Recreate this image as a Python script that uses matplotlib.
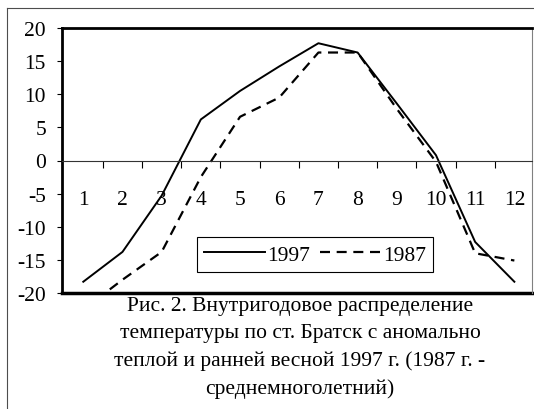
import numpy as np
import matplotlib
matplotlib.use("Agg")
import matplotlib.pyplot as plt
from matplotlib.lines import Line2D

plt.rcParams['font.family'] = ['Liberation Serif', 'DejaVu Serif']
plt.rcParams['axes.unicode_minus'] = False

months = [1, 2, 3, 4, 5, 6, 7, 8, 9, 10, 11, 12]
t1997 = [-18.3, -13.8, -5.3, 6.2, 10.5, 14.2, 17.7, 16.3, 8.6, 0.8, -12.3, -18.3]
t1987 = [-22.5, -18.0, -13.8, -2.5, 6.6, 9.5, 16.3, 16.3, 7.8, -0.2, -14.0, -15.1]
yticks = [-20, -15, -10, -5, 0, 5, 10, 15, 20]
caption = ("Рис. 2. Внутригодовое распределение\n"
           "температуры по ст. Братск с аномально\n"
           "теплой и ранней весной 1997 г. (1987 г. -\n"
           "среднемноголетний)")

fsize = 15.5
fig = plt.figure(figsize=(5.34, 4.10), dpi=100)
ax = fig.add_axes([62/534, 1-294/410, 470/534, 265/410])

ax.plot(months, t1997, color='black', lw=1.4, label='1997')
ax.plot(months, t1987, color='black', lw=1.6, linestyle=(0, (4.5, 3)), label='1987')

ax.set_xlim(0.457, 12.45)
ax.set_ylim(-20, 20)

# category axis sits on zero
ax.spines['bottom'].set_position(('data', 0))
ax.spines['bottom'].set_linewidth(0.8)
ax.spines['bottom'].set_color('0.2')
ax.spines['top'].set_linewidth(2)
ax.spines['left'].set_linewidth(2)
ax.spines['right'].set_linestyle((0, (1, 1)))
ax.spines['right'].set_color('0.5')
ax.spines['right'].set_linewidth(0.8)
ax.axhline(-20, color='black', lw=2.5, clip_on=False)

ax.set_xticks(months)
ax.set_xticklabels([str(m) for m in months], fontsize=fsize)
ax.set_xticks(np.arange(1.5, 12, 1), minor=True)
ax.tick_params(axis='x', which='major', length=0, pad=21.5)
ax.tick_params(axis='x', which='minor', length=5, width=0.8, direction='out')

ax.set_yticks(yticks)
ax.set_yticklabels([str(v) for v in yticks], fontsize=fsize)
ax.tick_params(axis='y', length=3.5, width=0.8, pad=8)

leg = ax.legend(loc='center', bbox_to_anchor=(315/534, 1-255.7/410),
                bbox_transform=fig.transFigure, ncol=2, fontsize=fsize,
                fancybox=False, edgecolor='black', framealpha=1,
                handlelength=2.8, handletextpad=0.1, columnspacing=0.5,
                borderpad=0.35, borderaxespad=0)
leg.get_frame().set_linewidth(0.8)

fig.text(300/534, 1-348/410, caption, ha='center', va='center',
         fontsize=fsize, linespacing=1.55)

# outer frame of the figure
fig.add_artist(Line2D([7/534, 7/534], [0, 1-9/410], color='0.3', lw=0.8))
fig.add_artist(Line2D([7/534, 1], [1-9/410, 1-9/410], color='0.3', lw=0.8))

fig.savefig('out.png', dpi=100)
